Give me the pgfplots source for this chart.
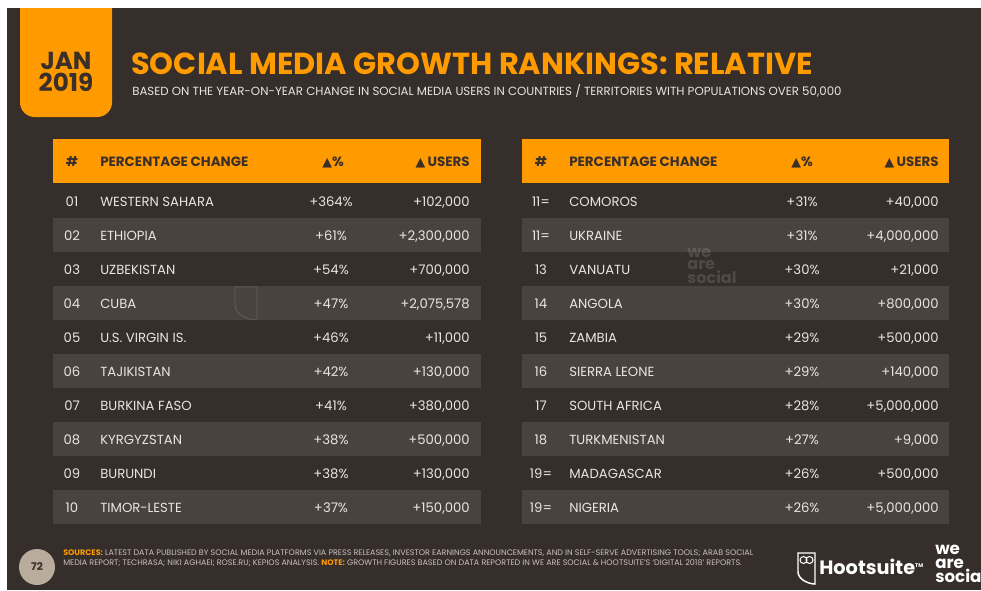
\documentclass[border=0pt]{standalone}
\usepackage{pgfplots}
\usepackage{pgfplotstable}
\pgfplotsset{compat=1.18}
\usepackage{fontspec}
\setmainfont{Poppins}
\newfontfamily\dejavu{DejaVu Sans}

\definecolor{bgdark}{HTML}{362E2A}
\definecolor{stripe}{HTML}{4A423D}
\definecolor{orng}{HTML}{FF9A00}
\definecolor{txt}{HTML}{E9E5E1}
\definecolor{hdtxt}{HTML}{3A2F29}
\definecolor{foot}{HTML}{C9C1B9}
\definecolor{badge}{HTML}{B9AC9C}

% rank; country; % change; user change
\pgfplotstableread[col sep=semicolon]{
rank;country;pct;users
01;WESTERN SAHARA;364;102000
02;ETHIOPIA;61;2300000
03;UZBEKISTAN;54;700000
04;CUBA;47;2075578
05;U.S. VIRGIN IS.;46;11000
06;TAJIKISTAN;42;130000
07;BURKINA FASO;41;380000
08;KYRGYZSTAN;38;500000
09;BURUNDI;38;130000
10;TIMOR-LESTE;37;150000
}\lefttab

\pgfplotstableread[col sep=semicolon]{
rank;country;pct;users
11=;COMOROS;31;40000
11=;UKRAINE;31;4000000
13;VANUATU;30;21000
14;ANGOLA;30;800000
15;ZAMBIA;29;500000
16;SIERRA LEONE;29;140000
17;SOUTH AFRICA;28;5000000
18;TURKMENISTAN;27;9000
19=;MADAGASCAR;26;500000
19=;NIGERIA;26;5000000
}\righttab

\pgfplotsset{
  cell/.style={draw=none, mark=none, nodes near coords,
    every node near coord/.append style={anchor=#1, inner sep=0pt,
      font=\fontsize{9.9}{10}\selectfont, text=txt}},
  /pgf/number format/assume math mode=true,
}

\begin{document}
\begin{tikzpicture}
\begin{axis}[
  x=0.75pt, y=0.75pt,
  xmin=0, xmax=981, ymin=0, ymax=590,
  y dir=reverse, hide axis, clip=false,
  axis line style={draw=none},
]
\coordinate (bl) at (0,590);
\coordinate (tr) at (981,0);
% background
\fill[white] (0,0) rectangle (981,590);
\fill[bgdark] (7,8) rectangle (981,590);
% date badge
\fill[orng] (20,8) [rounded corners=11pt] -- (20,117) -- (112,117) [sharp corners] -- (112,8) -- cycle;
\node[text=hdtxt, align=center, font=\fontsize{18.5}{20}\selectfont\bfseries, inner sep=0pt]
  at (66,72) {JAN\\[-3pt]2019};
% title
\node[anchor=base west, inner sep=0pt, text=orng, font=\fontsize{22.8}{24}\selectfont\bfseries]
  at (131,74) {SOCIAL MEDIA GROWTH RANKINGS: RELATIVE};
\node[anchor=base west, inner sep=0pt, text=txt, font=\fontsize{8.85}{9}\selectfont]
  at (132,95) {BASED ON THE YEAR-ON-YEAR CHANGE IN SOCIAL MEDIA USERS IN COUNTRIES / TERRITORIES WITH POPULATIONS OVER 50,000};

% table frames: header bars and striped rows
\fill[orng] (53,139) rectangle (481,183);
\fill[orng] (522,139) rectangle (949,183);
\pgfplotsinvokeforeach{1,3,5,7,9}{
  \fill[stripe] (53,{184+34*#1}) rectangle (481,{218+34*#1});
  \fill[stripe] (522,{184+34*#1}) rectangle (949,{218+34*#1});
}
% watermarks
\node[text=white, opacity=0.13, inner sep=0pt, align=left, font=\fontsize{12}{9}\selectfont\bfseries]
  at (712,266) {we\\are\\social};
\draw[white, opacity=0.15, line width=0.6pt] (235,287) -- (235,305) .. controls (235,314) and (247,320) .. (257,320) -- (257,287) -- cycle;

% headers
\pgfplotsinvokeforeach{53,522}{
  \node[text=hdtxt, inner sep=0pt, font=\fontsize{10.1}{10}\selectfont\bfseries] at ({#1+19},162) {\#};
  \node[anchor=west, text=hdtxt, inner sep=0pt, font=\fontsize{10.1}{10}\selectfont\bfseries] at ({#1+47},162) {PERCENTAGE CHANGE};
  \node[text=hdtxt, inner sep=0pt, font=\fontsize{10.1}{10}\selectfont\bfseries] at ({#1+280},162) {{\dejavu\fontsize{9.5}{10}\selectfont ▲}\%};
  \node[anchor=east, text=hdtxt, inner sep=0pt, font=\fontsize{10.1}{10}\selectfont\bfseries] at ({#1+417},162) {{\dejavu\fontsize{9.5}{10}\selectfont ▲}\,USERS};
}

% left table
\addplot[cell=base, point meta=explicit symbolic] table[x expr=72, y expr=206+34*\coordindex, meta=rank] {\lefttab};
\addplot[cell=base west, point meta=explicit symbolic] table[x expr=100, y expr=206+34*\coordindex, meta=country] {\lefttab};
\addplot[cell=base, point meta=explicit, nodes near coords={+\pgfmathprintnumber{\pgfplotspointmeta}\%}]
  table[x expr=331, y expr=206+34*\coordindex, meta=pct] {\lefttab};
\addplot[cell=base east, point meta=explicit, nodes near coords={+\pgfmathprintnumber[fixed, precision=0, 1000 sep={,}]{\pgfplotspointmeta}}]
  table[x expr=470, y expr=206+34*\coordindex, meta=users] {\lefttab};

% right table
\addplot[cell=base, point meta=explicit symbolic] table[x expr=541, y expr=206+34*\coordindex, meta=rank] {\righttab};
\addplot[cell=base west, point meta=explicit symbolic] table[x expr=569, y expr=206+34*\coordindex, meta=country] {\righttab};
\addplot[cell=base, point meta=explicit, nodes near coords={+\pgfmathprintnumber{\pgfplotspointmeta}\%}]
  table[x expr=802, y expr=206+34*\coordindex, meta=pct] {\righttab};
\addplot[cell=base east, point meta=explicit, nodes near coords={+\pgfmathprintnumber[fixed, precision=0, 1000 sep={,}]{\pgfplotspointmeta}}]
  table[x expr=939, y expr=206+34*\coordindex, meta=users] {\righttab};

% footer
\fill[badge] (37,567) circle[radius=13.5pt];
\node[text=hdtxt, inner sep=0pt, font=\fontsize{8}{9}\selectfont\bfseries] at (37,567) {72};
\node[anchor=base west, inner sep=0pt, text=foot, align=left, font=\fontsize{6.0}{7.4}\selectfont]
  at (63,565) {{\color{orng}\bfseries SOURCES:} LATEST DATA PUBLISHED BY SOCIAL MEDIA PLATFORMS VIA PRESS RELEASES, INVESTOR EARNINGS ANNOUNCEMENTS, AND IN SELF-SERVE ADVERTISING TOOLS; ARAB SOCIAL\\
  MEDIA REPORT; TECHRASA; NIKI AGHAEI; ROSE.RU; KEPIOS ANALYSIS. {\color{orng}\bfseries NOTE:} GROWTH FIGURES BASED ON DATA REPORTED IN WE ARE SOCIAL \& HOOTSUITE'S `DIGITAL 2018' REPORTS.};
% logos
\draw[white, line width=1.1pt] (798,553) -- (798,572) .. controls (798,579) and (808,584) .. (815,584) -- (815,553) -- cycle;
\draw[white, line width=0.8pt] (803.5,560) circle[radius=2.6pt] (809.5,560) circle[radius=2.6pt];
\node[anchor=base west, inner sep=0pt, text=white, font=\fontsize{14.5}{16}\selectfont\bfseries]
  at (819,574) {Hootsuite\raisebox{5pt}{\fontsize{4}{4}\selectfont TM}};
\node[anchor=north west, inner sep=0pt, text=white, align=left, font=\fontsize{12.5}{10.5}\selectfont\bfseries]
  at (935,545) {we\\are\\social};
\end{axis}
\pgfresetboundingbox
\path[use as bounding box] (bl) rectangle (tr);
\end{tikzpicture}
\end{document}
